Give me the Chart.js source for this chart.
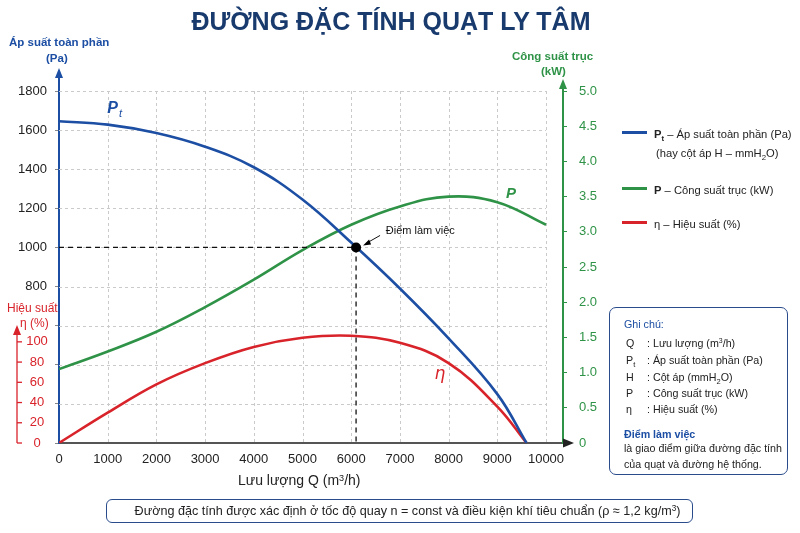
<!DOCTYPE html>
<html lang="vi">
<head>
<meta charset="utf-8">
<script src="https://cdn.jsdelivr.net/npm/chart.js@4.4.1/dist/chart.umd.min.js"></script>
<style>
html, body { margin: 0; padding: 0; background: #fff; }
#wrap { position: relative; width: 800px; height: 533px; overflow: hidden;
        font-family: "Liberation Sans", Arial, sans-serif; color: #222; }
#wrap canvas { position: absolute; left: 0; top: 0; }
.t { position: absolute; white-space: nowrap; line-height: 16px; }
.title { left: 0; width: 782px; top: 6px; text-align: center; font-size: 25px; line-height: 30px;
         font-weight: bold; color: #183a6d; }
.ax { font-weight: bold; font-size: 11.5px; }
.blue { color: #1c4ea3; }
.green { color: #2f9347; }
.red { color: #d8232a; }
.leg { font-size: 11.2px; }
.sw { position: absolute; width: 25px; height: 3px; }
sub { font-size: 70%; vertical-align: -3px; line-height: 0; }
sup { font-size: 65%; vertical-align: 4px; line-height: 0; }
#notes { position: absolute; left: 609px; top: 307px; width: 177px; height: 166px;
         border: 1.3px solid #2b4c8c; border-radius: 7px; font-size: 10.7px; }
#notes .t { line-height: 14px; }
#foot { position: absolute; left: 106px; top: 499px; width: 569px; height: 22px; padding-left: 16px;
        border: 1.3px solid #2b4c8c; border-radius: 6px; font-size: 12.6px;
        text-align: center; line-height: 22px; }
</style>
</head>
<body>
<div id="wrap">
<canvas id="fanChart" width="800" height="533"></canvas>

<div class="t title">ĐƯỜNG ĐẶC TÍNH QUẠT LY TÂM</div>

<div class="t ax blue" style="left:9px;top:34px;">Áp suất toàn phần</div>
<div class="t ax blue" style="left:46px;top:50px;">(Pa)</div>
<div class="t ax green" style="left:512px;top:48px;">Công suất trục</div>
<div class="t ax green" style="left:541px;top:63px;">(kW)</div>
<div class="t red" style="left:7px;top:300px;font-size:12px;">Hiệu suất</div>
<div class="t red" style="left:20px;top:315px;font-size:12px;">η (%)</div>
<div class="t" style="left:238px;top:472px;font-size:14px;">Lưu lượng Q (m<sup>3</sup>/h)</div>

<div class="sw" style="left:622px;top:131px;background:#1c4ea3;"></div>
<div class="t leg" style="left:654px;top:126px;"><b>P<sub>t</sub></b> – Áp suất toàn phần (Pa)</div>
<div class="t leg" style="left:656px;top:145px;">(hay cột áp H – mmH<sub>2</sub>O)</div>
<div class="sw" style="left:622px;top:187px;background:#2f9347;"></div>
<div class="t leg" style="left:654px;top:182px;"><b>P</b> – Công suất trục (kW)</div>
<div class="sw" style="left:622px;top:221px;background:#d8232a;"></div>
<div class="t leg" style="left:654px;top:216px;">η – Hiệu suất (%)</div>

<div id="notes">
  <div class="t blue" style="left:14px;top:9px;">Ghi chú:</div>
  <div class="t" style="left:16px;top:28px;">Q</div><div class="t" style="left:37px;top:28px;">: Lưu lượng (m<sup>3</sup>/h)</div>
  <div class="t" style="left:16px;top:45px;">P<sub>t</sub></div><div class="t" style="left:37px;top:45px;">: Áp suất toàn phần (Pa)</div>
  <div class="t" style="left:16px;top:62px;">H</div><div class="t" style="left:37px;top:62px;">: Cột áp (mmH<sub>2</sub>O)</div>
  <div class="t" style="left:16px;top:78px;">P</div><div class="t" style="left:37px;top:78px;">: Công suất trục (kW)</div>
  <div class="t" style="left:16px;top:94px;">η</div><div class="t" style="left:37px;top:94px;">: Hiệu suất (%)</div>
  <div class="t blue" style="left:14px;top:119px;font-weight:bold;">Điểm làm việc</div>
  <div class="t" style="left:14px;top:133px;">là giao điểm giữa đường đặc tính</div>
  <div class="t" style="left:14px;top:149px;">của quạt và đường hệ thống.</div>
</div>

<div id="foot">Đường đặc tính được xác định ở tốc độ quay n = const và điều kiện khí tiêu chuẩn (ρ ≈ 1,2 kg/m<sup>3</sup>)</div>
</div>

<script>
/*  Donnees  */

const flowQ        = [0, 1000, 2000, 3000, 4000, 5000, 6000, 7000, 8000, 9000, 9600];
const pressurePa   = [1645, 1628, 1585, 1515, 1410, 1245, 1025, 790, 535, 250, 0];
const efficiencyPc = [0, 30, 58, 79, 95, 104, 106, 99, 79, 36, 0];

const powerQ  = [0, 1000, 2000, 3000, 4000, 5000, 6000, 7000, 8000, 9000, 10000];
const powerKW = [1.05, 1.30, 1.58, 1.93, 2.32, 2.74, 3.10, 3.36, 3.50, 3.42, 3.10];

const qTicks   = [0, 1000, 2000, 3000, 4000, 5000, 6000, 7000, 8000, 9000, 10000];
const paTicks  = [200, 400, 600, 800, 1000, 1200, 1400, 1600, 1800];
const etaTicks = [0, 20, 40, 60, 80, 100];

const opQ = 6100;   // diem lam viec
const opPa = 1000;

const BLUE = "#1c4ea3", GREEN = "#2f9347", RED = "#d8232a";


/*  Dessins en plus  */

function arrowHead(ctx, x, y, dir, color) {
    ctx.fillStyle = color;
    ctx.beginPath();
    if (dir == "up") {
        ctx.moveTo(x, y); ctx.lineTo(x - 4, y + 10); ctx.lineTo(x + 4, y + 10);
    } else {
        ctx.moveTo(x, y); ctx.lineTo(x - 11, y - 4.5); ctx.lineTo(x - 11, y + 4.5);
    }
    ctx.closePath();
    ctx.fill();
}

function seg(ctx, x1, y1, x2, y2) {
    ctx.beginPath(); ctx.moveTo(x1, y1); ctx.lineTo(x2, y2); ctx.stroke();
}

const deco = {
    id: "deco",
    beforeDatasetsDraw(chart) {
        const { ctx, scales: { x, y } } = chart;
        const xEnd = x.getPixelForValue(10000);
        ctx.save();
        ctx.strokeStyle = "#cacaca";
        ctx.lineWidth = 1;
        ctx.setLineDash([3, 3]);
        qTicks.slice(1).forEach(q => {
            const px = Math.round(x.getPixelForValue(q)) + 0.5;
            seg(ctx, px, y.top, px, y.bottom);
        });
        paTicks.forEach(p => {
            const py = Math.round(y.getPixelForValue(p)) + 0.5;
            seg(ctx, x.left, py, xEnd, py);
        });
        ctx.restore();
    },
    afterDatasetsDraw(chart) {
        const { ctx, chartArea, scales: { x, y, yP, yEta } } = chart;
        ctx.save();

        // fleches des axes
        ctx.strokeStyle = BLUE; ctx.lineWidth = 2;
        seg(ctx, chartArea.left, chartArea.top, chartArea.left, 76);
        arrowHead(ctx, chartArea.left, 68, "up", BLUE);
        ctx.strokeStyle = GREEN;
        seg(ctx, chartArea.right, chartArea.top, chartArea.right, 86);
        arrowHead(ctx, chartArea.right, 79, "up", GREEN);
        arrowHead(ctx, chartArea.right + 11, chartArea.bottom, "right", "#222");

        // axe du rendement
        const ex = 17;
        ctx.strokeStyle = RED; ctx.lineWidth = 1.3;
        seg(ctx, ex, yEta.getPixelForValue(0), ex, 333);
        arrowHead(ctx, ex, 325, "up", RED);
        ctx.font = "13px 'Liberation Sans', Arial";
        ctx.fillStyle = RED;
        ctx.textAlign = "center";
        ctx.textBaseline = "middle";
        etaTicks.forEach(v => {
            const py = yEta.getPixelForValue(v);
            seg(ctx, ex, py, ex + 5, py);
            ctx.fillText(String(v), 37, py);
        });

        // point de fonctionnement
        const px = x.getPixelForValue(opQ), py = y.getPixelForValue(opPa);
        ctx.strokeStyle = "#111"; ctx.lineWidth = 1.3;
        ctx.setLineDash([5, 4]);
        seg(ctx, chartArea.left, py, px, py);
        seg(ctx, px, py, px, chartArea.bottom);
        ctx.setLineDash([]);
        ctx.fillStyle = "#000";
        ctx.beginPath(); ctx.arc(px, py, 5, 0, Math.PI * 2); ctx.fill();

        ctx.lineWidth = 1;
        seg(ctx, px + 24, py - 12, px + 10, py - 4);
        ctx.beginPath();
        ctx.moveTo(px + 7, py - 2); ctx.lineTo(px + 13, py - 8); ctx.lineTo(px + 15, py - 3);
        ctx.closePath(); ctx.fill();
        ctx.font = "11px 'Liberation Sans', Arial";
        ctx.textAlign = "left";
        ctx.fillStyle = "#111";
        ctx.fillText("Điểm làm việc", x.getPixelForValue(6710), y.getPixelForValue(1085));

        // noms des courbes
        ctx.font = "italic bold 16px 'Liberation Sans', Arial";
        ctx.fillStyle = BLUE;
        const lx = x.getPixelForValue(1100), ly = y.getPixelForValue(1710);
        ctx.textAlign = "center";
        ctx.fillText("P", lx, ly);
        ctx.font = "italic 11px 'Liberation Sans', Arial";
        ctx.fillText("t", lx + 8, ly + 5);

        ctx.font = "italic bold 15px 'Liberation Sans', Arial";
        ctx.fillStyle = GREEN;
        ctx.fillText("P", x.getPixelForValue(9280), yP.getPixelForValue(3.54));

        ctx.font = "italic 17px 'DejaVu Sans', sans-serif";
        ctx.fillStyle = RED;
        ctx.fillText("η", x.getPixelForValue(7820), yEta.getPixelForValue(68));

        ctx.restore();
    }
};


/*  Graphique   */

const toPoints = (xs, ys) => xs.map((q, i) => ({ x: q, y: ys[i] }));

new Chart(document.getElementById("fanChart").getContext("2d"), {
    type: "line",
    data: {
        datasets: [
            { label: "Pt", data: toPoints(flowQ, pressurePa), yAxisID: "y",
              borderColor: BLUE, borderWidth: 2.6, pointRadius: 0, tension: 0.4 },
            { label: "P", data: toPoints(powerQ, powerKW), yAxisID: "yP",
              borderColor: GREEN, borderWidth: 2.6, pointRadius: 0, tension: 0.4 },
            { label: "eta", data: toPoints(flowQ, efficiencyPc), yAxisID: "yEta",
              borderColor: RED, borderWidth: 2.6, pointRadius: 0, tension: 0.4 }
        ]
    },
    options: {
        responsive: false,
        animation: false,
        layout: { padding: { top: 91, right: 197, bottom: 66, left: 0 } },
        plugins: { legend: { display: false }, tooltip: { enabled: false } },
        scales: {
            x: {
                type: "linear", min: 0, max: 10349,
                afterBuildTicks: s => { s.ticks = qTicks.map(v => ({ value: v })); },
                afterFit: s => { s.height = 24; },
                border: { color: "#555", width: 2 },
                grid: { display: false },
                ticks: { autoSkip: false, maxRotation: 0, color: "#222",
                         font: { family: "'Liberation Sans', Arial", size: 13 }, padding: 1,
                         callback: v => String(v) }
            },
            y: {
                position: "left", min: 0, max: 1800,
                afterFit: s => { s.width = 59; },
                border: { color: BLUE, width: 2 },
                grid: { drawOnChartArea: false, tickLength: 4, color: "#888" },
                ticks: { stepSize: 200, color: "#222", padding: 8,
                         font: { family: "'Liberation Sans', Arial", size: 13 },
                         callback: v => v >= 800 ? v : "" }
            },
            yP: {
                position: "right", min: 0, max: 5,
                afterFit: s => { s.width = 40; },
                border: { color: GREEN, width: 2 },
                grid: { drawOnChartArea: false, tickLength: 4, color: GREEN },
                ticks: { stepSize: 0.5, color: GREEN, padding: 12,
                         font: { family: "'Liberation Sans', Arial", size: 13 },
                         callback: v => v === 0 ? "0" : v.toFixed(1) }
            },
            yEta: { display: false, min: 0, max: 348 }
        }
    },
    plugins: [deco]
});
</script>
</body>
</html>
